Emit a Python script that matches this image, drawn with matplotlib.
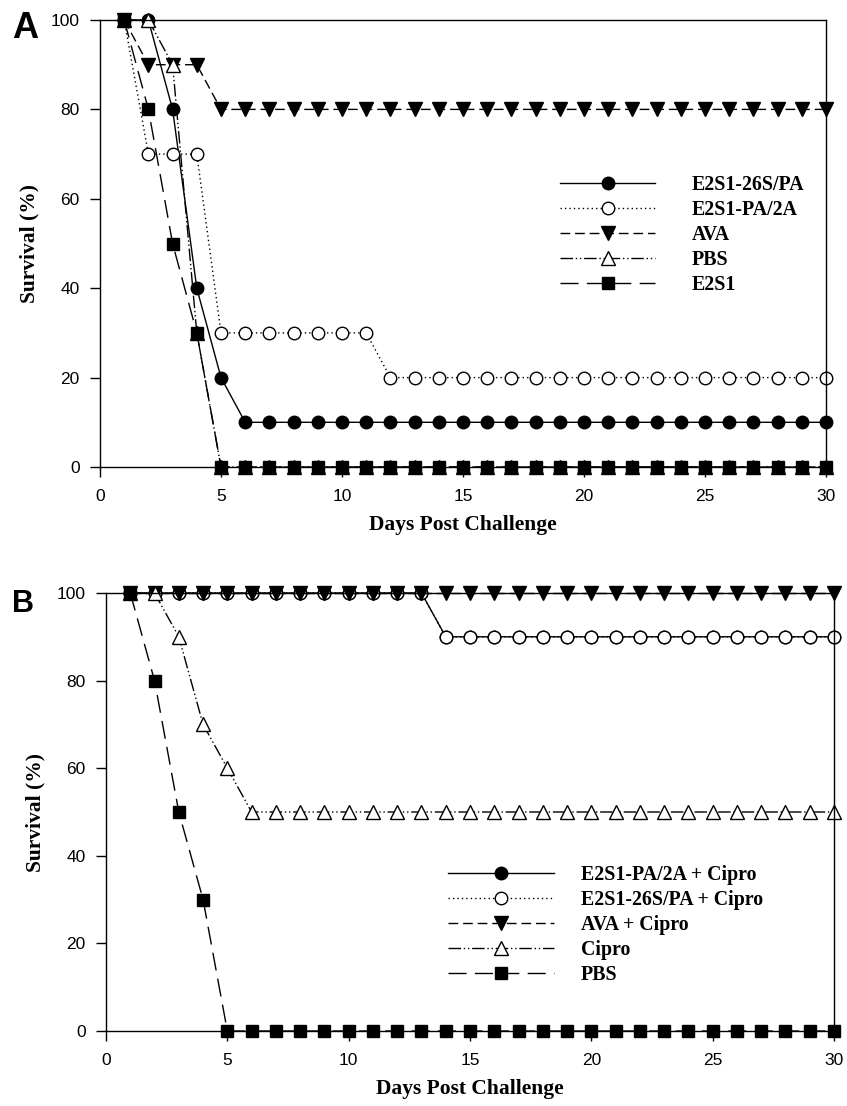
import matplotlib
matplotlib.use("Agg")
import matplotlib.pyplot as plt

days = list(range(1, 31))

# Panel A
a_labels = ["E2S1-26S/PA", "E2S1-PA/2A", "AVA", "PBS", "E2S1"]
a_e2s1_26s = [100, 100, 80, 40, 20] + [10] * 25
a_e2s1_pa2a = [100, 70, 70, 70] + [30] * 7 + [20] * 19
a_ava = [100, 90, 90, 90] + [80] * 26
a_pbs = [100, 100, 90, 30] + [0] * 26
a_e2s1 = [100, 80, 50, 30] + [0] * 26

# Panel B
b_labels = ["E2S1-PA/2A + Cipro", "E2S1-26S/PA + Cipro", "AVA + Cipro", "Cipro", "PBS"]
b_pa2a = [100] * 13 + [90] * 17
b_26s = [100] * 13 + [90] * 17
b_ava = [100] * 30
b_cipro = [100, 100, 90, 70, 60] + [50] * 25
b_pbs = [100, 80, 50, 30] + [0] * 26

xticks = [0, 5, 10, 15, 20, 25, 30]
yticks = [0, 20, 40, 60, 80, 100]

W, H = 847, 1106
fig = plt.figure(figsize=(W / 100, H / 100), dpi=100)

serif = "Liberation Serif"
sans = "Liberation Sans"

styles = [
    dict(marker="o", mfc="black", ls="-"),
    dict(marker="o", mfc="white", ls=(0, (1, 2.2))),
    dict(marker="v", mfc="black", ls=(0, (7, 3.5))),
    dict(marker="^", mfc="white", ls=(0, (9, 2, 1, 2, 1, 2))),
    dict(marker="s", mfc="black", ls=(0, (13, 6))),
]
msizes = [9, 9, 9.5, 9.5, 8]
LEGFS = 14.3


def px(l, t, r, b):
    return [l / W, 1 - b / H, (r - l) / W, (b - t) / H]


def panel(rect, series, labels, letter, letter_xy, letter_size, leg_xy, hl, hp):
    ax = fig.add_axes(rect)
    for ys, lab, st, ms in zip(series, labels, styles, msizes):
        ax.plot(days, ys, color="black", lw=1.0, ls=st["ls"], marker=st["marker"],
                mfc=st["mfc"], mec="black", mew=1.0, ms=ms, label=lab, clip_on=False)
    ax.set_xlim(0, 30)
    ax.set_ylim(0, 100)
    ax.set_xticks(xticks)
    ax.set_yticks(yticks)
    ax.tick_params(direction="out", length=7, width=1.0, labelsize=12.5,
                   top=False, right=False)
    ax.tick_params(axis="x", pad=9)
    ax.tick_params(axis="y", pad=7.5)
    for lab in ax.get_xticklabels() + ax.get_yticklabels():
        lab.set_fontfamily(sans)
    for s in ax.spines.values():
        s.set_linewidth(1.0)
    ax.set_xlabel("Days Post Challenge", fontfamily=serif, fontweight="bold",
                  fontsize=15.5, labelpad=8)
    ax.set_ylabel("Survival (%)", fontfamily=serif, fontweight="bold",
                  fontsize=15.5, labelpad=8)
    fpx = LEGFS * 100 / 72
    ax.legend(loc="upper left", bbox_to_anchor=(leg_xy[0] / W, 1 - leg_xy[1] / H),
              bbox_transform=fig.transFigure, frameon=False, numpoints=1,
              prop=dict(family=serif, weight="bold", size=LEGFS),
              handlelength=hl / fpx, handletextpad=hp / fpx, labelspacing=0.25,
              borderpad=0, borderaxespad=0)
    fig.text(letter_xy[0] / W, 1 - letter_xy[1] / H, letter, fontfamily=sans,
             fontweight="bold", fontsize=letter_size, ha="left", va="baseline")
    return ax


panel(px(100, 20, 826, 467), [a_e2s1_26s, a_e2s1_pa2a, a_ava, a_pbs, a_e2s1],
      a_labels, "A", (12, 38), 26, (560, 175), 95, 37)
panel(px(106, 593, 834, 1031), [b_pa2a, b_26s, b_ava, b_cipro, b_pbs],
      b_labels, "B", (12, 612), 22, (448, 865), 106, 27)

fig.savefig("out.png", dpi=100)
